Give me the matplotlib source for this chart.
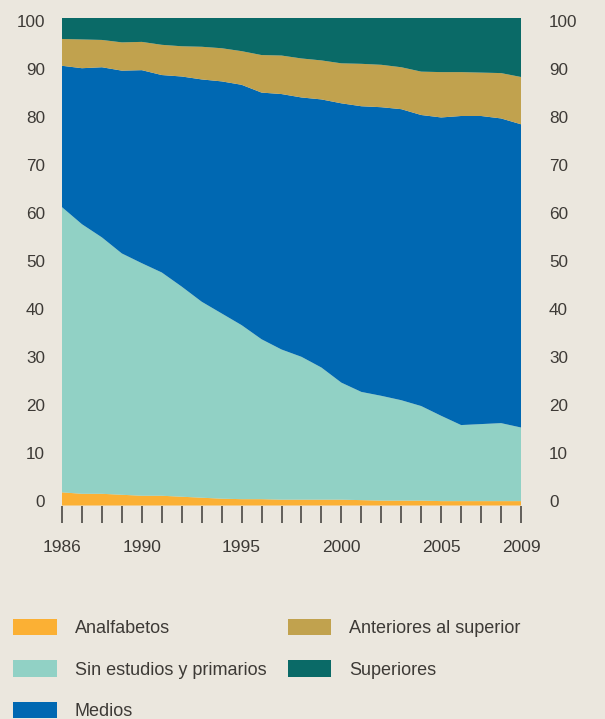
import matplotlib
matplotlib.use("Agg")
import matplotlib.pyplot as plt
import matplotlib.transforms as mtransforms

plt.rcParams["font.family"] = ["Liberation Sans", "DejaVu Sans"]

BG = "#ebe7de"
TXT = "#3d3a36"

years = list(range(1986, 2010))
labelled_years = [1986, 1990, 1995, 2000, 2005, 2009]
y_labels = list(range(0, 101, 10))

# shares (%), bottom to top
analfabetos = [2.7, 2.4, 2.4, 2.2, 2.0, 2.0, 1.8, 1.6, 1.4, 1.3, 1.3, 1.2,
               1.2, 1.2, 1.2, 1.1, 1.0, 1.0, 1.0, 0.9, 0.9, 0.9, 0.9, 0.9]
sin_estudios = [58.5, 55.3, 52.6, 49.5, 47.7, 45.8, 43.1, 40.2, 38.0, 35.7, 32.8, 30.8,
                29.3, 27.1, 24.0, 22.2, 21.5, 20.6, 19.4, 17.5, 15.6, 15.8, 16.0, 15.1]
medios = [29.0, 32.0, 34.9, 37.5, 39.6, 40.5, 43.1, 45.6, 47.6, 49.3, 50.6, 52.4,
          53.2, 55.0, 57.3, 58.6, 59.2, 59.7, 59.7, 61.2, 63.4, 63.2, 62.5, 62.2]
anteriores = [5.5, 5.9, 5.6, 5.8, 5.8, 6.2, 6.2, 6.7, 6.8, 6.9, 7.7, 7.9,
              8.0, 8.0, 8.2, 8.7, 8.7, 8.6, 8.9, 9.3, 9.0, 8.9, 9.3, 9.7]
superiores = [4.3, 4.4, 4.5, 5.0, 4.9, 5.5, 5.8, 5.9, 6.2, 6.8, 7.6, 7.7,
              8.3, 8.7, 9.3, 9.4, 9.6, 10.1, 11.0, 11.1, 11.1, 11.2, 11.3, 12.1]

labels = ["Analfabetos", "Sin estudios y primarios", "Medios",
          "Anteriores al superior", "Superiores"]
colors = ["#fbb034", "#91d1c5", "#0068b2", "#c1a24e", "#0a6a67"]

W, H = 605, 719
fig = plt.figure(figsize=(W / 100, H / 100), dpi=100, facecolor=BG)
ax = fig.add_axes([62 / W, 1 - 505.5 / H, (521 - 62) / W, (505.5 - 18) / H])
ax.set_facecolor(BG)

polys = ax.stackplot(years, analfabetos, sin_estudios, medios, anteriores, superiores,
                     colors=colors, labels=labels, lw=0)
ax.set_xlim(1986, 2009)
ax.set_ylim(0, 100)
for s in ax.spines.values():
    s.set_visible(False)

# the printed scale sits slightly off the drawn area (labels run 1..99.4)
ax.set_yticks([0.985 + 0.9846 * v for v in y_labels])
ax.set_yticklabels([str(v) for v in y_labels])
ax.tick_params(axis="y", length=0, labelsize=12.3, labelcolor=TXT, pad=12.2,
               left=True, right=True, labelleft=True, labelright=True)
for tk in ax.yaxis.get_major_ticks():
    tk.label2.set_transform(tk.label2.get_transform()
                            + mtransforms.ScaledTranslation(11 / 100, 0, fig.dpi_scale_trans))

ax.set_xticks(years)
ax.set_xticklabels([str(y) if y in labelled_years else "" for y in years])
ax.tick_params(axis="x", direction="out", length=12, width=1.1, color=TXT,
               labelsize=12.5, labelcolor=TXT, pad=13)

fig.legend(handles=polys, labels=labels, ncol=2, frameon=False,
           loc="upper left", bbox_to_anchor=(6 / W, 1 - 612 / H),
           fontsize=13, handlelength=2.4, handleheight=1.0, handletextpad=1.0,
           columnspacing=1.2, labelspacing=1.27, labelcolor=TXT, borderaxespad=0)

fig.savefig("out.png", dpi=100, facecolor=BG)
